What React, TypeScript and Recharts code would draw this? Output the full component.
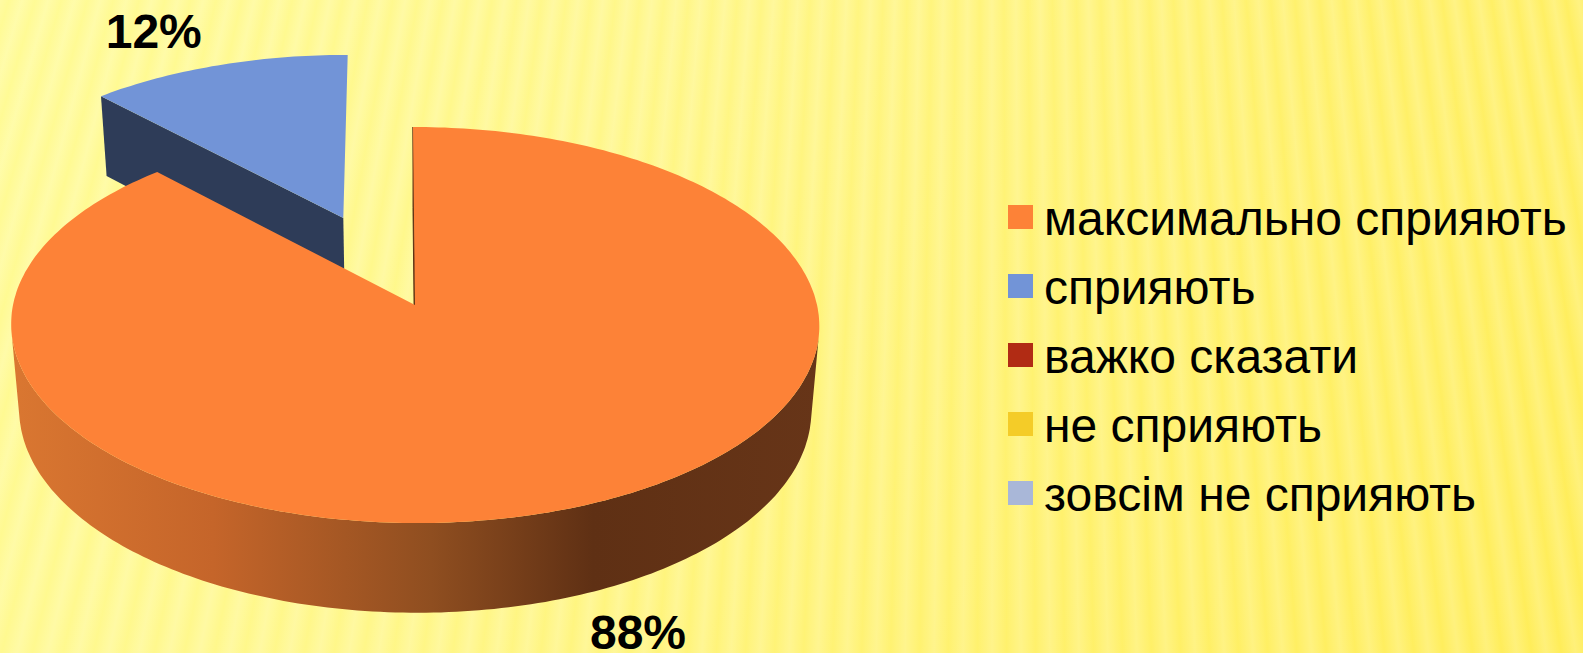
import React from "react";
import { PieChart, Pie, Legend } from "recharts";

const categories = [
  "максимально сприяють",
  "сприяють",
  "важко сказати",
  "не сприяють",
  "зовсім не сприяють",
];
const shares = [88, 12, 0, 0, 0];
const colors = ["#FD8237", "#7294D7", "#B12B14", "#F4CC28", "#A9B7D8"];
const explode = [0, 0.5, 0, 0, 0];
const labelOffsets = [
  [61, 37],
  [-64, -34],
];

const chartData = categories.map((name, i) => ({
  name,
  value: shares[i],
  fill: colors[i],
}));

const WIDTH = 1583;
const HEIGHT = 653;
const RAD = Math.PI / 180;

// fake 3D: u/v are unit-circle coords on the pie plane, z is 0 on top and 1 at the base
const project = (cx: number, cy: number, r: number, u: number, v: number, z: number) => {
  const w = 1 - 0.101 * v + 0.02 * z;
  return {
    x: cx + (r * u + 2.2 * v) / w,
    y: cy + (r * 0.4876 * v + 86.8 * z) / w,
  };
};

type Pt = { x: number; y: number };

const toPath = (pts: Pt[]) =>
  "M" + pts.map((p) => `${p.x.toFixed(1)},${p.y.toFixed(1)}`).join("L") + "Z";

const signedArea = (pts: Pt[]) =>
  pts.reduce((sum, p, i) => {
    const q = pts[(i + 1) % pts.length];
    return sum + p.x * q.y - q.x * p.y;
  }, 0);

const renderSlice = (props: any, wanted: (i: number) => boolean) => {
  const { cx, cy, outerRadius, startAngle, endAngle, midAngle, name } = props;
  const index = categories.indexOf(name);
  if (!wanted(index) || startAngle === endAngle) return <g />;

  const off = explode[index];
  const ou = off * Math.cos(midAngle * RAD);
  const ov = -off * Math.sin(midAngle * RAD);
  const at = (a: number, z: number, radial = 1) =>
    project(
      cx,
      cy,
      outerRadius,
      ou + radial * Math.cos(a * RAD),
      ov - radial * Math.sin(a * RAD),
      z
    );

  const angles: number[] = [];
  const steps = Math.ceil(Math.abs(endAngle - startAngle));
  for (let s = 0; s <= steps; s++) {
    angles.push(startAngle + ((endAngle - startAngle) * s) / steps);
  }
  const rimTop = angles.map((a) => at(a, 0));
  // only the quads that face the viewer, all wound the same way so they merge
  const wallQuads: string[] = [];
  for (let s = 0; s < steps; s++) {
    const quad = [
      at(angles[s], 0),
      at(angles[s + 1], 0),
      at(angles[s + 1], 1),
      at(angles[s], 1),
    ];
    if (signedArea(quad) < 0) wallQuads.push(toPath(quad));
  }
  const apexTop = at(0, 0, 0);
  const apexBase = at(0, 1, 0);
  const isMain = index === 0;
  const faceFill = isMain ? "#5E3214" : "#2E3C58";

  return (
    <g>
      {wallQuads.length > 0 && (
        <path d={wallQuads.join("")} fill={isMain ? "url(#mainWall)" : faceFill} />
      )}
      <path
        d={toPath([at(startAngle, 0), apexTop, apexBase, at(startAngle, 1)])}
        fill={faceFill}
        stroke={faceFill}
        strokeWidth={isMain ? 1 : 0}
      />
      <path d={toPath([apexTop, ...rimTop])} fill={colors[index]} />
    </g>
  );
};

const renderLabel = (props: any) => {
  const { cx, cy, outerRadius, midAngle, value, name } = props;
  const index = categories.indexOf(name);
  if (!value) return null;
  const off = 1 + explode[index];
  const z = index === 0 ? 1 : 0;
  const p = project(
    cx,
    cy,
    outerRadius,
    off * Math.cos(midAngle * RAD),
    -off * Math.sin(midAngle * RAD),
    z
  );
  return (
    <text
      x={p.x + labelOffsets[index][0]}
      y={p.y + labelOffsets[index][1]}
      textAnchor="middle"
      dominantBaseline="central"
      fontFamily="Liberation Sans"
      fontWeight="bold"
      fontSize={48}
      fill="#000"
    >
      {value}%
    </text>
  );
};

const renderLegend = (props: any) => {
  const payload = props.payload || [];
  // legend payload comes back sorted, put it back in category order
  const items = categories
    .map((name) => payload.find((p: any) => p.value === name))
    .filter(Boolean);
  return (
    <div style={{ fontFamily: "Liberation Sans", fontSize: 48, color: "#000" }}>
      {items.map((item: any) => (
        <div
          key={item.value}
          style={{ display: "flex", alignItems: "center", height: 69, whiteSpace: "nowrap" }}
        >
          <span
            style={{
              width: 25,
              height: 24,
              marginRight: 11,
              marginTop: -1,
              background: item.color,
              flex: "none",
            }}
          />
          <span style={{ position: "relative", top: 1 }}>{item.value}</span>
        </div>
      ))}
    </div>
  );
};

const App = () => {
  return (
    <div
      style={{
        position: "fixed",
        left: 0,
        top: 0,
        width: WIDTH,
        height: HEIGHT,
        overflow: "hidden",
        background:
          "repeating-conic-gradient(from 0deg at 990px -3300px, rgba(255,255,255,0) 0deg, rgba(255,255,255,0.2) 0.21deg, rgba(255,255,255,0) 0.42deg), linear-gradient(115deg, #FFFB96 0%, #FFF789 35%, #FFF16C 70%, #FFED58 100%)",
      }}
    >
      <PieChart width={WIDTH} height={HEIGHT} margin={{ top: 0, right: 0, bottom: 0, left: 0 }}>
        <defs>
          <linearGradient id="mainWall" gradientUnits="userSpaceOnUse" x1={10} y1={0} x2={820} y2={0}>
            <stop offset="0" stopColor="#DA7731" />
            <stop offset="0.25" stopColor="#C5652A" />
            <stop offset="0.52" stopColor="#8F4E20" />
            <stop offset="0.72" stopColor="#5F3014" />
            <stop offset="1" stopColor="#673518" />
          </linearGradient>
        </defs>
        <Pie
          data={chartData}
          dataKey="value"
          nameKey="name"
          cx={415}
          cy={305}
          outerRadius={402}
          startAngle={90}
          endAngle={-270}
          stroke="none"
          legendType="none"
          isAnimationActive={false}
          shape={(p: any) => renderSlice(p, (i) => i !== 0)}
        />
        <Pie
          data={chartData}
          dataKey="value"
          nameKey="name"
          cx={415}
          cy={305}
          outerRadius={402}
          startAngle={90}
          endAngle={-270}
          stroke="none"
          isAnimationActive={false}
          label={renderLabel}
          labelLine={false}
          shape={(p: any) => renderSlice(p, (i) => i === 0)}
        />
        <Legend
          layout="vertical"
          align="right"
          verticalAlign="top"
          content={renderLegend}
          wrapperStyle={{ left: 1008, top: 183, width: 575 }}
        />
      </PieChart>
    </div>
  );
};

export default App;
